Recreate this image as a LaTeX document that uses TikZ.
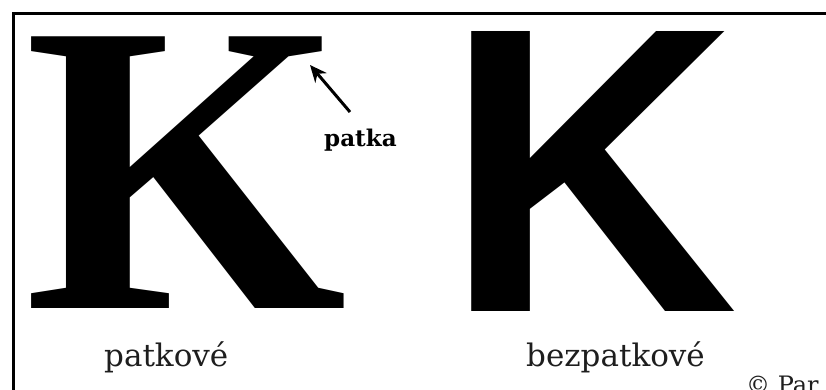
\documentclass[tikz,border=0pt]{standalone}
\usepackage{fontspec}
\setmainfont{DejaVu Serif}
\newfontfamily\serifglyph{Liberation Serif}
\newfontfamily\sansglyph{Liberation Sans}
\usepackage{tikz}
\usetikzlibrary{arrows.meta, positioning}
\definecolor{inkblack}{RGB}{0,0,0}
\definecolor{capgray}{RGB}{30,30,30}
\tikzset{
  glyphbox/.style={inner sep=0pt,anchor=base west,text=inkblack},
  serifK/.style={glyphbox,font=\serifglyph\bfseries\fontsize{415}{415}\selectfont},
  sansK/.style={glyphbox,font=\sansglyph\bfseries\fontsize{407}{407}\selectfont},
  caption/.style={inner sep=0pt,anchor=base west,text=capgray,font=\fontsize{31}{31}\selectfont},
  serifnote/.style={inner sep=0pt,anchor=base west,font=\bfseries\fontsize{23}{23}\selectfont},
  credit/.style={inner sep=0pt,anchor=base west,text=capgray,font=\fontsize{24}{24}\selectfont},
  frame/.style={draw=inkblack,line width=2.6pt},
  pointer/.style={-{Stealth[length=17pt,width=15pt]},line width=3pt,color=inkblack}
}

\begin{document}
\begin{tikzpicture}[x=1pt,y=-1pt]
  \clip (0,0) rectangle (826,389);
  \fill[white] (0,0) rectangle (826,389);
  \draw[frame] (13.5,13.5) rectangle (850,420);

  %% Letters
  \node[serifK] (Kserif) at (24,308) {K};
  \node[sansK] (Ksans) at (444,311) {K};

  %% Labels
  \node[caption] (capserif) at (104,366) {patkové};
  \node[caption] (capsans) at (526,366) {bezpatkové};
  \node[serifnote] (patka) at (324,146) {patka};
  \node[credit] (copy) at (746,393) {© Par};

  %% Pointer to the serif
  \coordinate (serifend) at (310,65);
  \coordinate (pointtail) at (350,112);
  \draw[pointer] (pointtail) -- (serifend);
\end{tikzpicture}
\end{document}
